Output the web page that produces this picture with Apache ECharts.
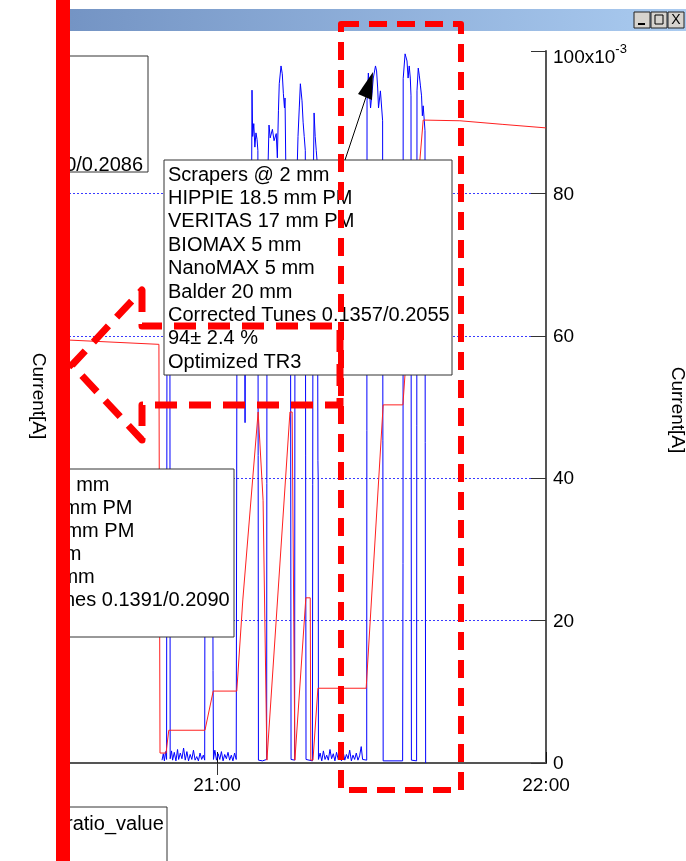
<!DOCTYPE html>
<html>
<head>
<meta charset="utf-8">
<script src="https://cdn.jsdelivr.net/npm/echarts@6/dist/echarts.min.js"></script>
<style>
html, body { margin: 0; padding: 0; background: #fff; }
#chart { width: 686px; height: 861px; }
</style>
</head>
<body>
<div id="chart"></div>
<script>
var FONT = '"Liberation Sans", Arial, sans-serif';

// x values are minutes after 20:00
var xTickValues = [60, 120];
var xTickLabels = ['21:00', '22:00'];
var yTickTop = '100x10';

// blue trace (right axis, x10^-3)
var currentTime = [
	49.97, 50.2, 50.4, 50.6, 50.8,
	50.88, 51.4, 51.45,
	51.7, 51.9, 52.2, 52.5, 52.8, 53.0, 53.3, 53.6, 53.9, 54.2, 54.5, 54.8, 55.1, 55.4, 55.7, 56.0, 56.3, 56.6, 56.9, 57.2, 57.5, 57.75,
	57.81, 59.2, 59.27, 59.35,
	59.6, 59.9, 60.2, 60.5, 60.8, 61.1, 61.4, 61.7, 62.0, 62.3, 62.6, 62.9, 63.2, 63.5,
	63.65, 64.5, 65.05, 65.11, 65.2, 66.3, 66.38, 66.5, 66.7, 66.9, 67.1, 67.3, 67.45, 67.55,
	68.3, 69.05,
	69.12, 69.48, 69.7, 70.1, 70.4, 70.8, 71.0, 71.2, 71.35, 71.67, 71.9, 72.1, 72.3, 72.4, 72.6, 73.4, 73.5,
	74.15, 74.22, 74.77, 75.0, 75.2, 75.5, 75.7, 75.9, 76.1, 76.23,
	77.4, 77.51, 77.7, 77.9, 78.1, 78.3, 78.4, 78.45, 78.5,
	78.8, 79.1, 79.4, 79.7, 80.0, 80.3, 80.6, 80.9, 81.2, 81.5, 81.8, 82.1, 82.4, 82.7, 83.0, 83.3, 83.6, 83.9, 84.2, 84.5, 84.8, 85.1, 85.4, 85.7, 86.0, 86.3, 86.55,
	87.3, 87.36, 87.6, 88.0, 88.3, 88.5, 88.9, 89.1, 89.3, 89.45, 89.8, 90.2, 90.3,
	93.85,
	93.92, 93.95, 94.3, 94.65, 94.85, 95.05, 95.25, 95.38, 95.45,
	96.4, 96.47, 96.7, 96.9, 97.1, 97.3, 97.45, 97.6, 97.8, 97.93, 97.97, 98.05
];
var currentValue = [
	0.4, 1.3, 0.3, 1.6, 0.5,
	72, 70, 0.6,
	1.7, 0.4, 1.5, 0.3, 1.9, 0.5, 1.4, 0.6, 2.1, 0.4, 1.6, 0.3, 1.2, 0.5, 1.8, 0.4, 0.9, 0.3, 1.4, 0.5, 1.1, 0.4,
	36, 34, 13, 0.5,
	1.8, 0.4, 1.3, 0.5, 1.6, 0.3, 1.2, 0.6, 1.5, 0.4, 1.1, 0.3, 1.4, 0.5,
	70, 74, 62, 47.8, 72, 80, 94.5, 88, 89.8, 86.5, 88.5, 87.6, 86, 0.4,
	0.3, 0.5,
	78, 89.6, 87.8, 89.0, 87.4, 88.4, 85, 91.6, 95.4, 97.9, 96.8, 94.0, 92.0, 93.4, 80, 70, 0.5,
	0.4, 72, 88, 92, 95.4, 93, 90, 88, 86, 0.5,
	0.3, 78, 91.3, 88, 86, 84, 42.5, 40, 0.5,
	1.4, 0.3, 1.7, 0.5, 1.1, 0.4, 1.9, 0.6, 1.3, 0.3, 1.5, 0.5, 1.0, 0.3, 1.6, 0.4, 1.2, 0.6, 1.8, 0.3, 1.1, 0.5, 1.4, 0.4, 1.0, 2.3, 0.5,
	0.4, 93, 96.9, 92.0, 94.4, 96.2, 97.9, 97.2, 94.8, 92.0, 94.4, 90.2, 0.3,
	0.3,
	28, 96.1, 99.6, 98.6, 96.2, 97.9, 96.2, 93.7, 0.4,
	0.3, 94.4, 97.6, 96.5, 95.1, 93.7, 90.9, 92.3, 90.2, 88.8, 45, 0
];

// red trace (left axis)
var ratioTime = [33, 49.4, 49.6, 50.7, 51.2, 57.8, 59.3, 63.6, 64.7, 67.5, 67.8, 68.4, 69.1, 73.3, 73.7,
	74.2, 76.2, 77.0, 77.1, 77.5, 78.4, 87.2, 90.3, 93.9, 97.0, 97.6, 104.3, 112, 120];
var ratioValue = [59.4, 58.8, 1.4, 1.4, 4.6, 4.6, 10.1, 10.1, 22.9, 49.3, 49.3, 36.9, 0.4, 49.3, 49.3,
	0.4, 23.2, 23.2, 0.4, 0.4, 10.5, 10.5, 50.3, 50.3, 84.7, 90.3, 90.2, 89.7, 89.2];

// annotation text
var noteMain = ['Scrapers @ 2 mm', 'HIPPIE 18.5 mm PM', 'VERITAS 17 mm PM', 'BIOMAX 5 mm',
	'NanoMAX 5 mm', 'Balder 20 mm', 'Corrected Tunes 0.1357/0.2055', '94\u00b1 2.4 %', 'Optimized TR3'];
var noteLower = ['Scrapers @ 2 mm', 'HIPPIE 18.5 mm PM', 'VERITAS 17 mm PM', 'BIOMAX 5 mm',
	'NanoMAX 5 mm', 'Corrected Tunes 0.1391/0.2090', ''];
var noteUpper = ['Corrected Tunes 0.1390/0.2086'];
var legendName = 'ratio_value';
var axisTitle = 'Current[A]';

function zip(a, b) {
	var out = [];
	for (var i = 0; i < a.length; i++) {
		out.push([a[i], b[i]]);
	}
	return out;
}

var chart = echarts.init(document.getElementById('chart'));

var dashRed = { stroke: '#ff0000', fill: null, lineWidth: 6, lineDash: [18, 10], lineJoin: 'round' };

var option = {
	animation: false,
	backgroundColor: '#fff',
	grid: { left: 69, right: 140, top: 51, bottom: 98 },
	xAxis: [{
		type: 'value', position: 'bottom', min: 33, max: 120,
		axisLine: { lineStyle: { color: '#111', width: 2 } },
		axisTick: { inside: true, length: 11, customValues: xTickValues, lineStyle: { color: '#111' } },
		axisLabel: {
			customValues: xTickValues, margin: 13, color: '#000', fontSize: 19, fontFamily: FONT,
			formatter: function (v) { return xTickLabels[xTickValues.indexOf(v)]; }
		},
		splitLine: { show: false }
	}, {
		type: 'value', position: 'top', min: 33, max: 120,
		axisLine: { lineStyle: { color: '#555', width: 2 } },
		axisTick: { inside: true, length: 12, customValues: [60], lineStyle: { color: '#333' } },
		axisLabel: { show: false },
		splitLine: { show: false }
	}],
	yAxis: [{
		type: 'value', position: 'right', min: 0, max: 100, interval: 20,
		axisLine: { show: true, lineStyle: { color: '#555', width: 2 } },
		axisTick: { show: true, inside: true, length: 15, lineStyle: { color: '#333' } },
		axisLabel: {
			margin: 7, color: '#000', fontSize: 19, fontFamily: FONT,
			formatter: function (v) {
				return v === 100 ? '{top|' + yTickTop + '}{sup|-3}' : '{n|' + v + '}';
			},
			rich: {
				n: { fontSize: 19, fontFamily: FONT, color: '#000', padding: [2, 0, 0, 0] },
				top: { fontSize: 19, fontFamily: FONT, color: '#000', padding: [14, 0, 0, 0] },
				sup: { fontSize: 13, fontFamily: FONT, color: '#000', verticalAlign: 'top', padding: [8, 0, 0, 0] }
			}
		},
		splitLine: { show: true, showMinLine: false, showMaxLine: false, lineStyle: { color: '#3a3aff', width: 1, type: [2, 2] } }
	}, {
		type: 'value', position: 'left', min: 0, max: 100,
		axisLine: { show: false }, axisTick: { show: false }, axisLabel: { show: false },
		splitLine: { show: false }
	}],
	series: [{
		name: 'current', type: 'line', xAxisIndex: 0, yAxisIndex: 0,
		data: zip(currentTime, currentValue),
		showSymbol: false, lineStyle: { color: '#0000ff', width: 1 }, z: 3
	}, {
		name: legendName, type: 'line', xAxisIndex: 0, yAxisIndex: 1,
		data: zip(ratioTime, ratioValue),
		showSymbol: false, lineStyle: { color: '#ff2020', width: 1 }, z: 4
	}],
	graphic: [
		// window title bar
		{ type: 'rect', z: 5, shape: { x: 70, y: 9, width: 616, height: 22 },
			style: { fill: new echarts.graphic.LinearGradient(0, 0, 1, 0, [{ offset: 0, color: '#7494c4' }, { offset: 1, color: '#aacbf0' }]) } },
		{ type: 'rect', z: 6, shape: { x: 634, y: 12, width: 16, height: 16 }, style: { fill: '#d6d3ce', stroke: '#222', lineWidth: 1 } },
		{ type: 'rect', z: 6, shape: { x: 651, y: 12, width: 16, height: 16 }, style: { fill: '#d6d3ce', stroke: '#222', lineWidth: 1 } },
		{ type: 'rect', z: 6, shape: { x: 668, y: 12, width: 16, height: 16 }, style: { fill: '#d6d3ce', stroke: '#222', lineWidth: 1 } },
		{ type: 'rect', z: 7, shape: { x: 638, y: 23, width: 7, height: 2 }, style: { fill: '#000' } },
		{ type: 'rect', z: 7, shape: { x: 655, y: 15, width: 8, height: 9 }, style: { fill: null, stroke: '#000', lineWidth: 1 } },
		{ type: 'text', z: 7, style: { text: 'X', x: 676, y: 20, align: 'center', verticalAlign: 'middle', font: '14px ' + FONT, fill: '#000' } },

		// note boxes
		{ type: 'rect', z: 10, shape: { x: -10, y: 56, width: 158, height: 116 }, style: { fill: '#fff', stroke: '#333', lineWidth: 1 } },
		{ type: 'text', z: 11, style: { text: noteUpper.join('\n'), x: 143, y: 165, align: 'right', verticalAlign: 'middle', font: '20px ' + FONT, fill: '#000' } },
		{ type: 'rect', z: 10, shape: { x: 164, y: 160, width: 288, height: 215 }, style: { fill: '#fff', stroke: '#333', lineWidth: 1 } },
		{ type: 'text', z: 11, style: { text: noteMain.join('\n'), x: 168, y: 163.3, align: 'left', verticalAlign: 'top', lineHeight: 23.4, font: '20px ' + FONT, fill: '#000' } },
		{ type: 'rect', z: 10, shape: { x: -10, y: 469, width: 244, height: 168 }, style: { fill: '#fff', stroke: '#333', lineWidth: 1 } },
		{ type: 'text', z: 11, style: { text: noteLower.join('\n'), x: -52, y: 473.5, align: 'left', verticalAlign: 'top', lineHeight: 23, font: '20px ' + FONT, fill: '#000' } },
		{ type: 'rect', z: 10, shape: { x: -10, y: 807, width: 177, height: 70 }, style: { fill: '#fff', stroke: '#333', lineWidth: 1 } },
		{ type: 'text', z: 11, style: { text: legendName, x: 66, y: 824, align: 'left', verticalAlign: 'middle', font: '20px ' + FONT, fill: '#000' } },

		// pointer from the main note
		{ type: 'line', z: 12, shape: { x1: 345, y1: 160, x2: 366, y2: 97 }, style: { stroke: '#000', lineWidth: 1 } },
		{ type: 'polygon', z: 12, shape: { points: [[373, 72], [358, 94], [372, 100]] }, style: { fill: '#000' } },

		// red dashed markup
		{ type: 'polygon', z: 20, shape: { points: [[341, 24], [461, 24], [461, 790], [341, 790]] }, style: dashRed },
		{ type: 'polygon', z: 20, shape: { points: [[142, 290], [142, 326], [340, 326], [340, 405], [142, 405], [142, 440], [72, 365]] },
			style: { stroke: '#ff0000', fill: null, lineWidth: 7, lineDash: [22, 12], lineJoin: 'round' } },

		// left margin, red bar and axis titles
		{ type: 'rect', z: 45, shape: { x: 0, y: 0, width: 57, height: 861 }, style: { fill: '#fff' } },
		{ type: 'text', z: 50, x: 38, y: 396, rotation: -Math.PI / 2,
			style: { text: axisTitle, x: 0, y: 0, align: 'center', verticalAlign: 'middle', font: '19px ' + FONT, fill: '#000' } },
		{ type: 'text', z: 50, x: 677, y: 410, rotation: -Math.PI / 2,
			style: { text: axisTitle, x: 0, y: 0, align: 'center', verticalAlign: 'middle', font: '19px ' + FONT, fill: '#000' } },
		{ type: 'rect', z: 60, shape: { x: 56, y: 0, width: 14, height: 861 }, style: { fill: '#ff0000' } }
	]
};

chart.setOption(option);
</script>
</body>
</html>
